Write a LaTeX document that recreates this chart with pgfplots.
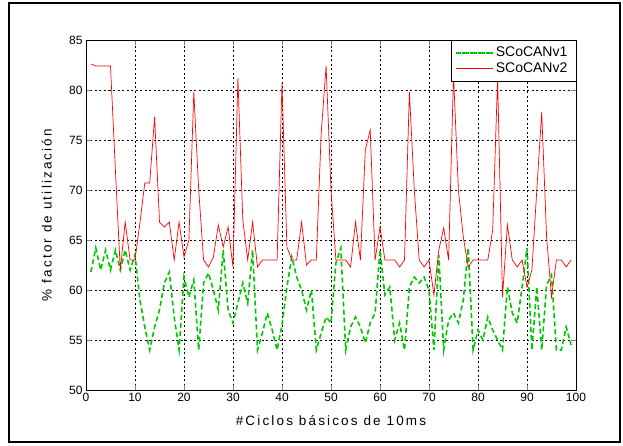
\documentclass[border=0pt]{standalone}
\usepackage{fontspec}
\setmainfont{Liberation Sans}
\newfontfamily\labelfont{Liberation Sans}[LetterSpace=16]
\usepackage{pgfplots}
\pgfplotsset{compat=1.18}
\definecolor{mgreen}{RGB}{0,200,0}
\newcommand{\legfont}{\fontsize{14}{16}\selectfont}

\pgfplotstableread{
x y
1 61.8
2 64.2
3 62
4 64
5 62
6 64
7 62
8 64
9 62
10 63.5
11 59
12 56.3
13 54
14 56.3
15 58
16 60.7
17 61.8
18 57.3
19 54
20 61.3
21 59.3
22 61
23 54
24 60.7
25 61.7
26 60
27 58
28 64
29 58
30 56.7
31 58.7
32 60.7
33 58.7
34 64
35 54
36 55.7
37 57.7
38 56
39 54
40 56.5
41 60.3
42 63.3
43 61.3
44 60
45 58
46 60
47 54
48 55.7
49 57.3
50 56.7
51 62.7
52 64.2
53 54
54 56.3
55 57.3
56 56.3
57 54.7
58 56.7
59 57.7
60 64
61 59.5
62 60.3
63 55
64 56.7
65 54
66 60.3
67 61.3
68 60.7
69 61.3
70 60
71 54
72 63.5
73 54
74 57
75 57.7
76 56.7
77 59
78 64.2
79 54
80 56
81 55
82 57.3
83 56
84 55
85 54
86 60.3
87 57.7
88 56.7
89 60.3
90 64.2
91 54
92 60.3
93 54
94 60.5
95 61.5
96 54
97 54
98 56.3
99 54.5
}\vone

\pgfplotstableread{
x y
1 82.6
2 82.4
3 82.4
4 82.4
5 82.4
6 72
7 62
8 66.8
9 63
10 63
11 66.7
12 70.7
13 70.7
14 77.3
15 66.8
16 66.3
17 66.8
18 63
19 66.8
20 63.3
21 65
22 79.8
23 70
24 63
25 62.3
26 63.3
27 66.5
28 64.3
29 66.3
30 62.3
31 81.2
32 67
33 63
34 66.8
35 62.3
36 63
37 63
38 63
39 63
40 80.7
41 64.3
42 63
43 63
44 66.8
45 62.5
46 63
47 63
48 75.7
49 82.4
50 70
51 63
52 63
53 63
54 62.3
55 66.8
56 63
57 74
58 76
59 63
60 66.3
61 63
62 63
63 63
64 62.3
65 63
66 79.8
67 70
68 63
69 62.3
70 63
71 59.5
72 64
73 66.2
74 63
75 81.5
76 70
77 65.3
78 62.3
79 63
80 63
81 63
82 63
83 66
84 81.2
85 59.3
86 66.5
87 63
88 62.3
89 63
90 60.3
91 62
92 70
93 77.8
94 65.3
95 59.3
96 63
97 63
98 62.3
99 63
}\vtwo

\begin{document}
\begin{tikzpicture}[x=1pt,y=1pt]
\path[use as bounding box] (-86,-55) rectangle (537,390);
\begin{axis}[
  scale only axis, width=490pt, height=350pt,
  at={(0,0)}, anchor=south west,
  xmin=0, xmax=100, ymin=50, ymax=85,
  xtick={0,10,...,100}, ytick={50,55,...,85},
  tick align=inside, major tick length=5pt,
  axis line style={line width=0.8pt},
  grid=major,
  major grid style={black, dash pattern=on 2pt off 2.5pt, line width=0.6pt},
  ticklabel style={font=\fontsize{12}{14}\selectfont},
  /pgf/number format/assume math mode=true,
  xlabel={\labelfont\fontsize{13.5}{15}\selectfont\#Ciclos básicos de 10ms},
  ylabel={\labelfont\fontsize{13.5}{15}\selectfont\% factor de utilización},
  xlabel style={at={(axis description cs:0.5,-0.086)}, anchor=center},
  ylabel style={at={(axis description cs:-0.08,0.5)}, anchor=center},
  legend style={at={(1,1)}, anchor=north east, draw=black,
    inner xsep=4pt, inner ysep=5pt, row sep=0pt,
    nodes={inner ysep=2pt}},
  legend cell align=left,
  legend image code/.code={\path (-6pt,0pt) -- (31pt,0pt);\draw[#1] (0pt,0pt) -- (27pt,0pt);},
]
\addplot[mgreen, line width=1.6pt, dash pattern=on 5pt off 3pt] table[x=x,y=y] {\vone};
\addlegendentry{\makebox[74pt][l]{\legfont SCoCANv1}}
\addplot[red, line width=0.7pt] table[x=x,y=y] {\vtwo};
\addlegendentry{\makebox[74pt][l]{\legfont SCoCANv2}}
\end{axis}
\draw[line width=1.5pt] (-77,-52) rectangle (534,387);
\end{tikzpicture}
\end{document}
